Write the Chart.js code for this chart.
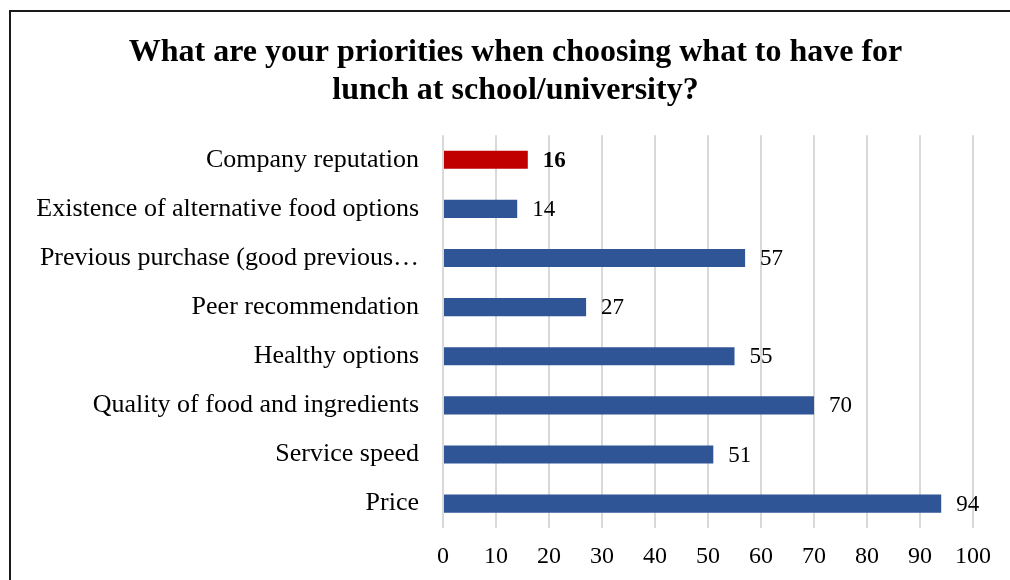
<!doctype html>
<html>
<head>
<meta charset="utf-8">
<title>Lunch priorities</title>
<script src="https://cdn.jsdelivr.net/npm/chart.js"></script>
<style>
  html, body { margin: 0; padding: 0; background: #fff; }
  #wrap { position: relative; width: 1010px; height: 580px; }
</style>
</head>
<body>
<div id="wrap"><canvas id="chart" width="1010" height="580"></canvas></div>
<script>
// survey answers, top to bottom
const categories = [
  'Company reputation',
  'Existence of alternative food options',
  'Previous purchase (good previous…',
  'Peer recommendation',
  'Healthy options',
  'Quality of food and ingredients',
  'Service speed',
  'Price'
];
const counts = [16, 14, 57, 27, 55, 70, 51, 94];
const highlighted = [true, false, false, false, false, false, false, false];
const xTicks = [0, 10, 20, 30, 40, 50, 60, 70, 80, 90, 100];

const BLUE = '#2f5597';
const RED = '#c00000';
const SERIF = '"Liberation Serif", "Times New Roman", serif';

Chart.defaults.color = '#000';
Chart.defaults.font.family = SERIF;

// outer frame of the chart box (left and top edges)
const framePlugin = {
  id: 'frame',
  afterLayout(chart) {
    // centre the title on the framed box rather than on the padded layout
    if (chart.titleBlock) chart.titleBlock.left = 58;
  },
  beforeDraw(chart) {
    const ctx = chart.ctx;
    ctx.save();
    ctx.fillStyle = '#fff';
    ctx.fillRect(0, 0, chart.width, chart.height);
    ctx.strokeStyle = '#1a1a1a';
    ctx.lineWidth = 2;
    ctx.beginPath();
    ctx.moveTo(10, chart.height + 2);
    ctx.lineTo(10, 11);
    ctx.lineTo(chart.width + 2, 11);
    ctx.stroke();
    ctx.restore();
  }
};

// value labels after each bar
const valueLabels = {
  id: 'valueLabels',
  afterDatasetsDraw(chart) {
    const ctx = chart.ctx;
    const meta = chart.getDatasetMeta(0);
    ctx.save();
    ctx.textAlign = 'left';
    ctx.textBaseline = 'middle';
    ctx.fillStyle = '#000';
    meta.data.forEach((bar, i) => {
      ctx.font = (highlighted[i] ? 'bold ' : '') + '23px ' + SERIF;
      ctx.fillText(String(counts[i]), bar.x + 15, bar.y + 1);
    });
    ctx.restore();
  }
};

new Chart(document.getElementById('chart'), {
  type: 'bar',
  data: {
    labels: categories,
    datasets: [{
      data: counts,
      backgroundColor: highlighted.map(h => h ? RED : BLUE),
      borderWidth: 0,
      categoryPercentage: 1,
      barPercentage: 0.37
    }]
  },
  options: {
    indexAxis: 'y',
    responsive: false,
    animation: false,
    layout: { padding: { left: 0, right: 37, top: 0, bottom: -6 } },
    plugins: {
      legend: { display: false },
      tooltip: { enabled: false },
      title: {
        display: true,
        text: ['What are your priorities when choosing what to have for', 'lunch at school/university?'],
        font: { family: SERIF, size: 32, weight: 'bold', lineHeight: 1.19 },
        color: '#000',
        padding: { top: 34, bottom: 25 }
      }
    },
    scales: {
      x: {
        min: 0,
        max: 100,
        afterBuildTicks(scale) { scale.ticks = xTicks.map(v => ({ value: v })); },
        grid: { color: '#d9d9d9', lineWidth: 2, drawTicks: false },
        border: { display: false },
        ticks: { font: { size: 24 }, padding: 14.5, maxRotation: 0 }
      },
      y: {
        grid: { display: false, drawTicks: false },
        border: { display: false },
        ticks: { font: { size: 26 }, padding: 24, autoSkip: false },
        afterFit(scale) { scale.width = 443; }
      }
    }
  },
  plugins: [framePlugin, valueLabels]
});
</script>
</body>
</html>
